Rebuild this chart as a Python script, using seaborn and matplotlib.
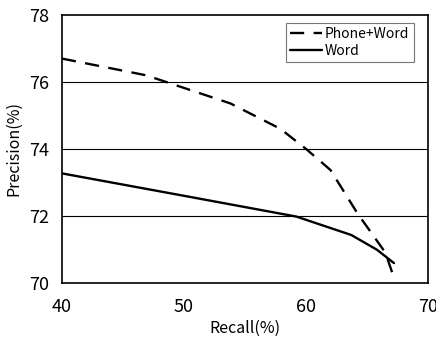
import matplotlib
matplotlib.use("Agg")
import matplotlib.pyplot as plt
import seaborn as sns
import pandas as pd

# Data
pw_recall = [40.0, 46.9, 53.8, 57.9, 60.0, 62.0, 64.2, 66.5, 67.2]
pw_precision = [76.7, 76.2, 75.36, 74.6, 74.0, 73.37, 72.08, 70.9, 70.15]
w_recall = [40.0, 50.0, 59.2, 63.7, 65.8, 67.2]
w_precision = [73.27, 72.6, 71.98, 71.43, 70.99, 70.59]
series_names = ["Phone+Word", "Word"]
x_ticks = [40, 50, 60, 70]
y_ticks = [70, 72, 74, 76, 78]

df = pd.concat([
    pd.DataFrame({"Recall": pw_recall, "Precision": pw_precision, "Series": series_names[0]}),
    pd.DataFrame({"Recall": w_recall, "Precision": w_precision, "Series": series_names[1]}),
], ignore_index=True)

sns.set_theme(style="white")
plt.rcParams["font.family"] = ["Noto Sans CJK JP", "DejaVu Sans"]

fig = plt.figure(figsize=(4.36, 3.42), dpi=100)
ax = fig.add_axes([0.142, 0.173, 0.840, 0.783])

for yv in [72, 74, 76]:
    ax.axhline(yv, color="black", lw=0.8, zorder=1)

sns.lineplot(data=df, x="Recall", y="Precision", hue="Series", style="Series",
             palette=["black", "black"], dashes={"Phone+Word": (6, 4), "Word": ""},
             linewidth=1.7, sort=False, estimator=None, ax=ax, zorder=3)

ax.set_xlim(40, 70)
ax.set_ylim(70, 78)
ax.set_xticks(x_ticks)
ax.set_yticks(y_ticks)
ax.tick_params(axis="x", direction="in", length=2, width=0.6, labelsize=13, pad=11, colors="black")
ax.tick_params(axis="y", length=0, labelsize=13, pad=9, colors="black")
for s in ax.spines.values():
    s.set_color("black")
    s.set_linewidth(1.2)
    s.set_visible(True)
ax.set_xlabel("Recall(%)", fontsize=11.5, color="black", labelpad=3)
ax.set_ylabel("Precision(%)", fontsize=11.5, color="black", labelpad=5)

leg = ax.legend(loc="upper right", bbox_to_anchor=(0.96, 0.97), fontsize=10,
                handlelength=2.3, handletextpad=0.2, borderpad=0.3, labelspacing=0.2,
                frameon=True, fancybox=False, borderaxespad=0)
leg.get_frame().set_edgecolor("#555555")
leg.get_frame().set_linewidth(0.8)
for t in leg.get_texts():
    t.set_color("black")

fig.savefig("out.png", dpi=100)
